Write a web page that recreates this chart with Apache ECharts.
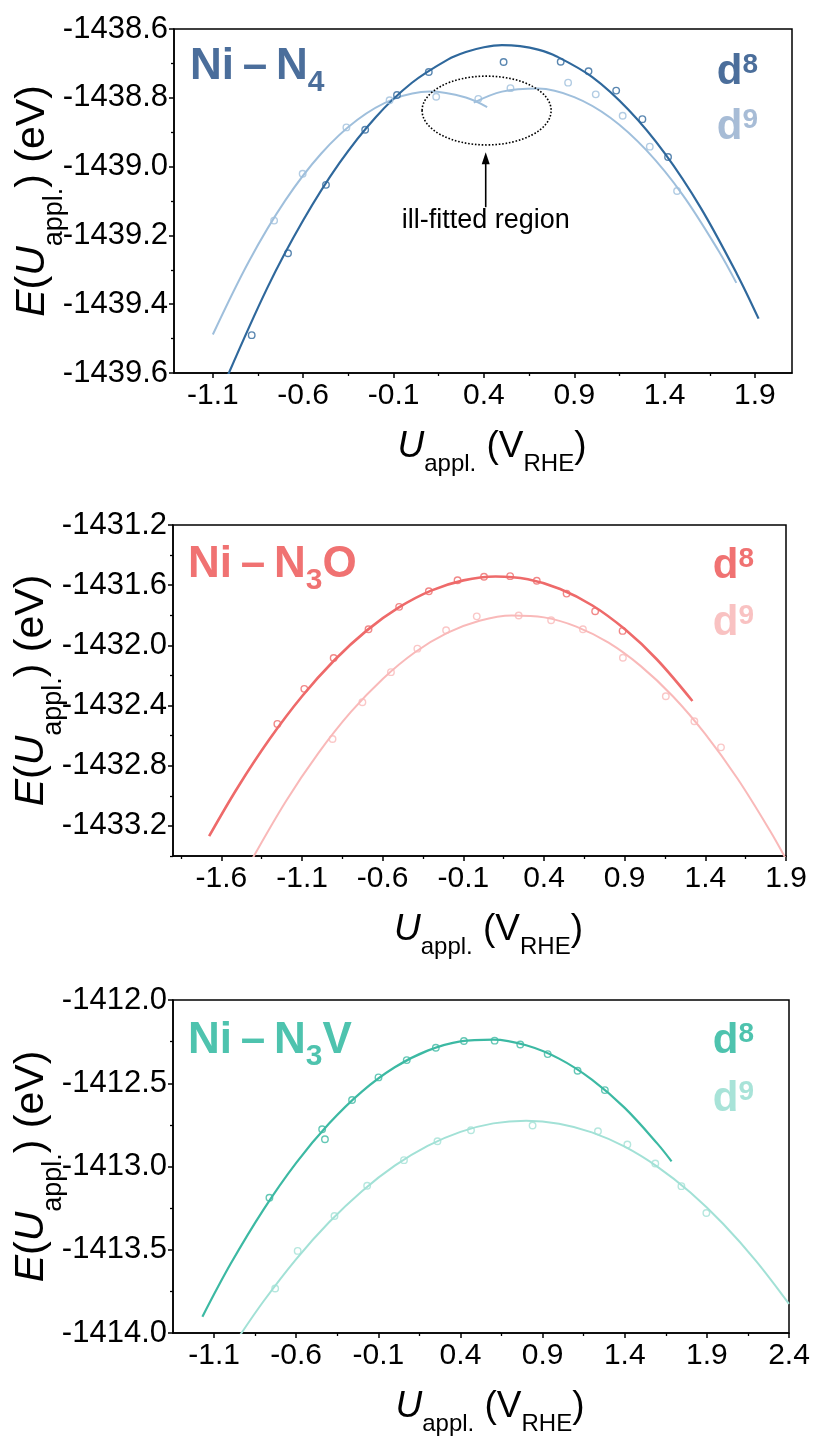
<!DOCTYPE html>
<html>
<head>
<meta charset="utf-8">
<script src="https://cdn.jsdelivr.net/npm/echarts@6/dist/echarts.min.js"></script>
<style>
  html, body { margin: 0; padding: 0; background: #ffffff; }
  #chart { width: 813px; height: 1437px; }
</style>
</head>
<body>
<div id="chart"></div>
<script>
// ---------- Ni–N4 ----------
const n4D8Pts = [[-0.885,-1439.490],[-0.684,-1439.252],[-0.474,-1439.053],[-0.257,-1438.893],[-0.081,-1438.792],[0.095,-1438.725],[0.509,-1438.696],[0.825,-1438.695],[0.979,-1438.723],[1.132,-1438.779],[1.277,-1438.862],[1.419,-1438.972]];
const n4D9Pts = [[-0.761,-1439.157],[-0.603,-1439.021],[-0.361,-1438.886],[-0.122,-1438.807],[0.136,-1438.797],[0.369,-1438.803],[0.547,-1438.772],[0.866,-1438.756],[1.019,-1438.790],[1.168,-1438.852],[1.318,-1438.942],[1.469,-1439.071]];
const n4D8Fit = [[-1.05,-1439.647],[-0.8,-1439.354],[-0.6,-1439.156],[-0.4,-1438.990],[-0.2,-1438.857],[0,-1438.757],[0.2,-1438.689],[0.3,-1438.667],[0.4,-1438.653],[0.5,-1438.647],[0.6,-1438.650],[0.7,-1438.660],[0.8,-1438.679],[1.0,-1438.740],[1.2,-1438.835],[1.4,-1438.961],[1.6,-1439.120],[1.8,-1439.312],[1.92,-1439.442]];
const n4D9FitLeft = [[-1.1,-1439.488],[-0.9,-1439.275],[-0.7,-1439.099],[-0.5,-1438.962],[-0.3,-1438.864],[-0.1,-1438.804],[0.1,-1438.782],[0.3,-1438.799],[0.418,-1438.827]];
const n4D9FitRight = [[0.344,-1438.814],[0.5,-1438.782],[0.7,-1438.773],[0.9,-1438.798],[1.1,-1438.858],[1.3,-1438.953],[1.5,-1439.082],[1.7,-1439.246],[1.797,-1439.338]];
const n4XTicks = [-1.1,-0.6,-0.1,0.4,0.9,1.4,1.9];
const n4XMinor = [-0.85,-0.35,0.15,0.65,1.15,1.65];
const n4YTicks = [-1439.6,-1439.4,-1439.2,-1439.0,-1438.8,-1438.6];
const n4YMinor = [-1439.5,-1439.3,-1439.1,-1438.9,-1438.7];

// ---------- Ni–N3O ----------
const n3oD8Pts = [[-1.253,-1432.522],[-1.086,-1432.289],[-0.904,-1432.084],[-0.688,-1431.893],[-0.498,-1431.744],[-0.314,-1431.640],[-0.136,-1431.567],[0.028,-1431.544],[0.190,-1431.540],[0.355,-1431.571],[0.540,-1431.656],[0.717,-1431.773],[0.887,-1431.904]];
const n3oD9Pts = [[-0.911,-1432.622],[-0.726,-1432.378],[-0.549,-1432.178],[-0.385,-1432.022],[-0.207,-1431.900],[-0.017,-1431.807],[0.243,-1431.802],[0.444,-1431.833],[0.641,-1431.893],[0.889,-1432.082],[1.155,-1432.338],[1.332,-1432.504],[1.497,-1432.678]];
const n3oD8Fit = [[-1.676,-1433.268],[-1.5,-1432.946],[-1.3,-1432.621],[-1.1,-1432.338],[-0.9,-1432.099],[-0.7,-1431.902],[-0.5,-1431.748],[-0.3,-1431.636],[-0.1,-1431.568],[0.1,-1431.542],[0.3,-1431.561],[0.5,-1431.625],[0.7,-1431.735],[0.9,-1431.892],[1.1,-1432.094],[1.32,-1432.370]];
const n3oD9Fit = [[-1.42,-1433.441],[-1.2,-1433.036],[-1.0,-1432.718],[-0.8,-1432.446],[-0.6,-1432.223],[-0.4,-1432.046],[-0.2,-1431.917],[0,-1431.836],[0.2,-1431.801],[0.4,-1431.814],[0.6,-1431.875],[0.8,-1431.982],[1.0,-1432.138],[1.2,-1432.340],[1.4,-1432.590],[1.6,-1432.887],[1.8,-1433.231],[1.9,-1433.421]];
const n3oXTicks = [-1.6,-1.1,-0.6,-0.1,0.4,0.9,1.4,1.9];
const n3oXMinor = [-1.85,-1.35,-0.85,-0.35,0.15,0.65,1.15,1.65];
const n3oYTicks = [-1433.2,-1432.8,-1432.4,-1432.0,-1431.6,-1431.2];
const n3oYMinor = [-1433.4,-1433.0,-1432.6,-1432.2,-1431.8,-1431.4];

// ---------- Ni–N3V ----------
const n3vD8Pts = [[-0.763,-1413.188],[-0.442,-1412.776],[-0.425,-1412.836],[-0.260,-1412.601],[-0.099,-1412.465],[0.073,-1412.361],[0.250,-1412.287],[0.421,-1412.246],[0.608,-1412.244],[0.764,-1412.267],[0.931,-1412.325],[1.113,-1412.425],[1.279,-1412.541]];
const n3vD9Pts = [[-0.728,-1413.733],[-0.591,-1413.507],[-0.367,-1413.297],[-0.168,-1413.116],[0.056,-1412.962],[0.260,-1412.848],[0.464,-1412.782],[0.839,-1412.754],[1.237,-1412.788],[1.416,-1412.868],[1.586,-1412.982],[1.745,-1413.118],[1.897,-1413.279]];
const n3vD8Fit = [[-1.171,-1413.902],[-1.0,-1413.586],[-0.8,-1413.260],[-0.6,-1412.978],[-0.4,-1412.742],[-0.2,-1412.550],[0,-1412.404],[0.2,-1412.304],[0.4,-1412.248],[0.6,-1412.238],[0.8,-1412.272],[1.0,-1412.352],[1.2,-1412.478],[1.4,-1412.648],[1.6,-1412.864],[1.685,-1412.969]];
const n3vD9Fit = [[-0.96,-1414.040],[-0.8,-1413.811],[-0.6,-1413.556],[-0.4,-1413.335],[-0.2,-1413.148],[0,-1412.995],[0.2,-1412.876],[0.4,-1412.792],[0.6,-1412.741],[0.8,-1412.725],[1.0,-1412.743],[1.2,-1412.795],[1.4,-1412.881],[1.6,-1413.002],[1.8,-1413.156],[2.0,-1413.345],[2.2,-1413.568],[2.4,-1413.825]];
const n3vXTicks = [-1.1,-0.6,-0.1,0.4,0.9,1.4,1.9,2.4];
const n3vXMinor = [-0.85,-0.35,0.15,0.65,1.15,1.65,2.15];
const n3vYTicks = [-1414.0,-1413.5,-1413.0,-1412.5,-1412.0];
const n3vYMinor = [-1413.75,-1413.25,-1412.75,-1412.25];

// ill-fitted region annotation (data coordinates of panel 1)
const ovalCenter = [0.415, -1438.837];
const ovalRadius = [0.357, 0.1];
const arrowFrom = [0.41, -1439.118];
const arrowTo = [0.41, -1438.958];
const noteAt = [0.41, -1439.157];

const FONT = '"Liberation Sans", Arial, sans-serif';
const INK = '#000000';
const DASH = '\u2009\u2013\u2009';

const panels = [
  {
    title: ['Ni' + DASH + 'N', '4', ''], titleColor: '#4b6e9b',
    c8: '#2f689c', c9: '#9fbfdc', t8: '#4b6e9b', t9: '#a7bcd6',
    grid: { left: 174, top: 29, width: 618, height: 344 },
    xMin: -1.315, xMax: 2.105, yMin: -1439.6, yMax: -1438.6,
    xTicks: n4XTicks, xMinor: n4XMinor, yTicks: n4YTicks, yMinor: n4YMinor,
    d8Pts: n4D8Pts, d9Pts: n4D9Pts, d8Fits: [n4D8Fit], d9Fits: [n4D9FitLeft, n4D9FitRight],
    w8: 2.2, w9: 2,
    titlePos: [190, 44.6], d8Pos: [758, 51], d9Pos: [758, 106]
  },
  {
    title: ['Ni' + DASH + 'N', '3', 'O'], titleColor: '#f07272',
    c8: '#ee6a6a', c9: '#f9b9b9', t8: '#f07272', t9: '#f9c2c2',
    grid: { left: 173, top: 525, width: 613, height: 331 },
    xMin: -1.9, xMax: 1.9, yMin: -1433.4, yMax: -1431.2,
    xTicks: n3oXTicks, xMinor: n3oXMinor, yTicks: n3oYTicks, yMinor: n3oYMinor,
    d8Pts: n3oD8Pts, d9Pts: n3oD9Pts, d8Fits: [n3oD8Fit], d9Fits: [n3oD9Fit],
    w8: 2.6, w9: 2,
    titlePos: [188, 543], d8Pos: [754, 545], d9Pos: [754, 602]
  },
  {
    title: ['Ni' + DASH + 'N', '3', 'V'], titleColor: '#4ec3ae',
    c8: '#3cb9a3', c9: '#a2e1d6', t8: '#4ec3ae', t9: '#a8e3d8',
    grid: { left: 173, top: 1000, width: 616, height: 333 },
    xMin: -1.35, xMax: 2.4, yMin: -1414.0, yMax: -1412.0,
    xTicks: n3vXTicks, xMinor: n3vXMinor, yTicks: n3vYTicks, yMinor: n3vYMinor,
    d8Pts: n3vD8Pts, d9Pts: n3vD9Pts, d8Fits: [n3vD8Fit], d9Fits: [n3vD9Fit],
    w8: 2.2, w9: 2,
    titlePos: [188, 1019], d8Pos: [754, 1020], d9Pos: [754, 1078]
  }
];

// rich text pieces for the axis names (italic symbols with subscripts)
const xNameRich = {
  i: { fontFamily: FONT, fontSize: 37, fontStyle: 'italic', color: INK, lineHeight: 37 },
  n: { fontFamily: FONT, fontSize: 37, color: INK, lineHeight: 37 },
  s: { fontFamily: FONT, fontSize: 24, color: INK, lineHeight: 24, padding: [36, 0, 0, 0] }
};
const yNameRich = {
  i: { fontFamily: FONT, fontSize: 41, fontStyle: 'italic', color: INK, lineHeight: 41 },
  n: { fontFamily: FONT, fontSize: 41, color: INK, lineHeight: 41 },
  s: { fontFamily: FONT, fontSize: 27, color: INK, lineHeight: 27, padding: [44, 0, 0, 0] }
};

const grids = [], xAxes = [], yAxes = [], series = [];
const fmt = v => Number(v).toFixed(1);

panels.forEach((p, k) => {
  grids.push(Object.assign({
    show: true, borderColor: INK, borderWidth: 1.5, backgroundColor: 'transparent',
    containLabel: false, outerBoundsMode: 'none'
  }, p.grid));
  const axLine = { show: true, onZero: false, lineStyle: { color: INK, width: 1.5 } };
  // labelled x axis
  xAxes.push({
    type: 'value', gridIndex: k, position: 'bottom', min: p.xMin, max: p.xMax,
    axisLine: axLine,
    axisTick: { show: true, inside: false, length: 5, customValues: p.xTicks, lineStyle: { color: INK, width: 1.5 } },
    axisLabel: { show: true, customValues: p.xTicks, formatter: fmt, fontFamily: FONT, fontSize: 30, color: INK, margin: 8 },
    splitLine: { show: false },
    name: '{i|U}{s|appl.}{n| (V}{s|RHE}{n|)}', nameLocation: 'middle', nameGap: 55, nameMoveOverlap: false,
    nameTextStyle: { rich: xNameRich, padding: [0, 0, 0, 18] }
  });
  // minor x ticks
  xAxes.push({
    type: 'value', gridIndex: k, position: 'bottom', min: p.xMin, max: p.xMax,
    axisLine: { show: false, onZero: false },
    axisTick: { show: true, inside: false, length: 3, customValues: p.xMinor, lineStyle: { color: INK, width: 1.3 } },
    axisLabel: { show: false }, splitLine: { show: false }
  });
  // labelled y axis
  yAxes.push({
    type: 'value', gridIndex: k, position: 'left', min: p.yMin, max: p.yMax,
    axisLine: axLine,
    axisTick: { show: true, inside: false, length: 5, customValues: p.yTicks, lineStyle: { color: INK, width: 1.5 } },
    axisLabel: { show: true, customValues: p.yTicks, formatter: fmt, fontFamily: FONT, fontSize: 31, color: INK, margin: 6 },
    splitLine: { show: false },
    name: '{i|E}{n|(}{i|U}{s|appl.}{n|) (eV)}', nameLocation: 'middle', nameGap: 121, nameMoveOverlap: false,
    nameTextStyle: { rich: yNameRich }
  });
  // minor y ticks
  yAxes.push({
    type: 'value', gridIndex: k, position: 'left', min: p.yMin, max: p.yMax,
    axisLine: { show: false, onZero: false },
    axisTick: { show: true, inside: false, length: 3, customValues: p.yMinor, lineStyle: { color: INK, width: 1.3 } },
    axisLabel: { show: false }, splitLine: { show: false }
  });

  const xi = 2 * k, yi = 2 * k;
  const fitLine = (data, color, width) => ({
    type: 'line', xAxisIndex: xi, yAxisIndex: yi, data, showSymbol: false,
    smooth: 0.35, clip: true, silent: true,
    lineStyle: { color, width }, z: 2
  });
  const dots = (data, color) => ({
    type: 'scatter', xAxisIndex: xi, yAxisIndex: yi, data, symbol: 'circle', symbolSize: 6.5,
    itemStyle: { color: 'rgba(255,255,255,0)', borderColor: color, borderWidth: 1.4 },
    silent: true, z: 3
  });
  p.d9Fits.forEach(f => series.push(fitLine(f, p.c9, p.w9)));
  p.d8Fits.forEach(f => series.push(fitLine(f, p.c8, p.w8)));
  series.push(dots(p.d9Pts, p.c9));
  series.push(dots(p.d8Pts, p.c8));
});

const chart = echarts.init(document.getElementById('chart'), null, { renderer: 'canvas' });
chart.setOption({
  animation: false,
  backgroundColor: '#ffffff',
  grid: grids, xAxis: xAxes, yAxis: yAxes, series
});

// panel labels and the d8 / d9 keys
const graphics = [];
panels.forEach(p => {
  graphics.push({
    type: 'text', x: p.titlePos[0], y: p.titlePos[1], z: 10,
    style: {
      text: '{m|' + p.title[0] + '}{s|' + p.title[1] + '}' + (p.title[2] ? '{m|' + p.title[2] + '}' : ''),
      align: 'left', verticalAlign: 'top',
      rich: {
        m: { fontFamily: FONT, fontSize: 44, fontWeight: 'bold', fill: p.titleColor, lineHeight: 44 },
        s: { fontFamily: FONT, fontSize: 30, fontWeight: 'bold', fill: p.titleColor, lineHeight: 30, padding: [32, 0, 0, 0] }
      }
    }
  });
  [['8', p.t8, p.d8Pos], ['9', p.t9, p.d9Pos]].forEach(([sup, col, pos]) => {
    graphics.push({
      type: 'text', x: pos[0], y: pos[1], z: 10,
      style: {
        text: '{d|d}{u|' + sup + '}', align: 'right', verticalAlign: 'top',
        rich: {
          d: { fontFamily: FONT, fontSize: 42, fontWeight: 'bold', fill: col, lineHeight: 42 },
          u: { fontFamily: FONT, fontSize: 28, fontWeight: 'bold', fill: col, lineHeight: 28, padding: [0, 0, 14, 0] }
        }
      }
    });
  });
});

// dotted oval, arrow and note inside the first panel
const toPx = pt => chart.convertToPixel({ xAxisIndex: 0, yAxisIndex: 0 }, pt);
const oc = toPx(ovalCenter);
const oe = toPx([ovalCenter[0] + ovalRadius[0], ovalCenter[1] + ovalRadius[1]]);
const a0 = toPx(arrowFrom), a1 = toPx(arrowTo), nt = toPx(noteAt);
graphics.push({
  type: 'ellipse', z: 10, silent: true,
  shape: { cx: oc[0], cy: oc[1], rx: Math.abs(oe[0] - oc[0]), ry: Math.abs(oc[1] - oe[1]) },
  style: { fill: 'none', stroke: INK, lineWidth: 1.6, lineDash: [1.6, 1.8] }
});
graphics.push({
  type: 'line', z: 10, silent: true,
  shape: { x1: a0[0], y1: a0[1], x2: a1[0], y2: a1[1] + 8 },
  style: { stroke: INK, lineWidth: 1.6 }
});
graphics.push({
  type: 'polygon', z: 10, silent: true,
  shape: { points: [[a1[0], a1[1]], [a1[0] - 4, a1[1] + 12], [a1[0] + 4, a1[1] + 12]] },
  style: { fill: INK }
});
graphics.push({
  type: 'text', z: 10, silent: true, x: nt[0], y: nt[1],
  style: { text: 'ill-fitted region', fontFamily: FONT, fontSize: 27, fill: INK, align: 'center', verticalAlign: 'middle' }
});

chart.setOption({ graphic: graphics });
</script>
</body>
</html>
